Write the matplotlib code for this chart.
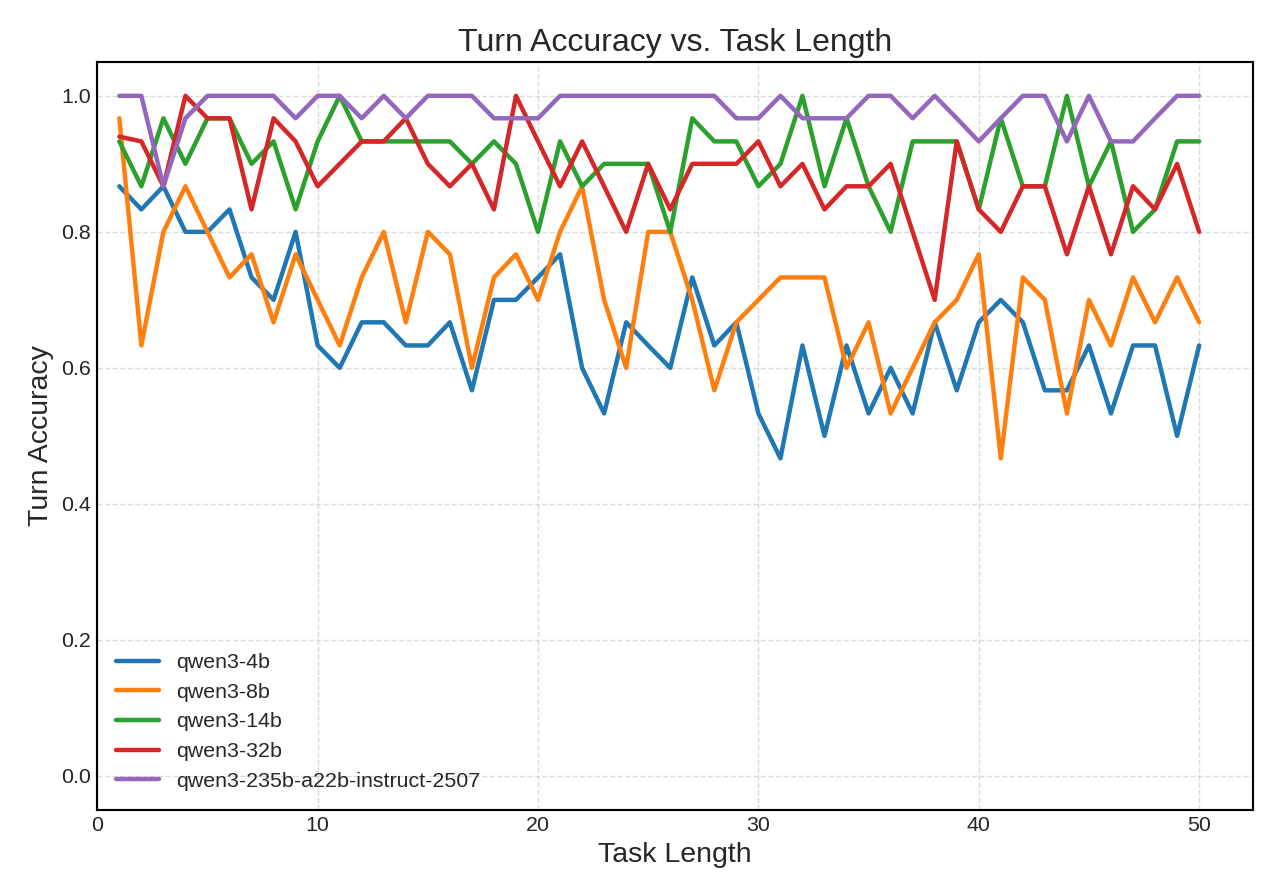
import matplotlib
matplotlib.use('Agg')
import matplotlib.pyplot as plt
import numpy as np

# accuracy per task length
task_length = list(range(1, 51))

qwen3_4b = [0.867, 0.833, 0.867, 0.800, 0.800, 0.833, 0.733, 0.700, 0.800, 0.633,
            0.600, 0.667, 0.667, 0.633, 0.633, 0.667, 0.567, 0.700, 0.700, 0.733,
            0.767, 0.600, 0.533, 0.667, 0.633, 0.600, 0.733, 0.633, 0.667, 0.533,
            0.467, 0.633, 0.500, 0.633, 0.533, 0.600, 0.533, 0.667, 0.567, 0.667,
            0.700, 0.667, 0.567, 0.567, 0.633, 0.533, 0.633, 0.633, 0.500, 0.633]
qwen3_8b = [0.967, 0.633, 0.800, 0.867, 0.800, 0.733, 0.767, 0.667, 0.767, 0.700,
            0.633, 0.733, 0.800, 0.667, 0.800, 0.767, 0.600, 0.733, 0.767, 0.700,
            0.800, 0.867, 0.700, 0.600, 0.800, 0.800, 0.700, 0.567, 0.667, 0.700,
            0.733, 0.733, 0.733, 0.600, 0.667, 0.533, 0.600, 0.667, 0.700, 0.767,
            0.467, 0.733, 0.700, 0.533, 0.700, 0.633, 0.733, 0.667, 0.733, 0.667]
qwen3_14b = [0.933, 0.867, 0.967, 0.900, 0.967, 0.967, 0.900, 0.933, 0.833, 0.933,
             1.000, 0.933, 0.933, 0.933, 0.933, 0.933, 0.900, 0.933, 0.900, 0.800,
             0.933, 0.867, 0.900, 0.900, 0.900, 0.800, 0.967, 0.933, 0.933, 0.867,
             0.900, 1.000, 0.867, 0.967, 0.867, 0.800, 0.933, 0.933, 0.933, 0.833,
             0.967, 0.867, 0.867, 1.000, 0.867, 0.933, 0.800, 0.833, 0.933, 0.933]
qwen3_32b = [0.940, 0.933, 0.867, 1.000, 0.967, 0.967, 0.833, 0.967, 0.933, 0.867,
             0.900, 0.933, 0.933, 0.967, 0.900, 0.867, 0.900, 0.833, 1.000, 0.933,
             0.867, 0.933, 0.867, 0.800, 0.900, 0.833, 0.900, 0.900, 0.900, 0.933,
             0.867, 0.900, 0.833, 0.867, 0.867, 0.900, 0.800, 0.700, 0.933, 0.833,
             0.800, 0.867, 0.867, 0.767, 0.867, 0.767, 0.867, 0.833, 0.900, 0.800]
qwen3_235b = [1.000, 1.000, 0.867, 0.967, 1.000, 1.000, 1.000, 1.000, 0.967, 1.000,
              1.000, 0.967, 1.000, 0.967, 1.000, 1.000, 1.000, 0.967, 0.967, 0.967,
              1.000, 1.000, 1.000, 1.000, 1.000, 1.000, 1.000, 1.000, 0.967, 0.967,
              1.000, 0.967, 0.967, 0.967, 1.000, 1.000, 0.967, 1.000, 0.967, 0.933,
              0.967, 1.000, 1.000, 0.933, 1.000, 0.933, 0.933, 0.967, 1.000, 1.000]

models = ['qwen3-4b', 'qwen3-8b', 'qwen3-14b', 'qwen3-32b', 'qwen3-235b-a22b-instruct-2507']
series = [qwen3_4b, qwen3_8b, qwen3_14b, qwen3_32b, qwen3_235b]

plt.style.use('seaborn-v0_8-whitegrid')
plt.rcParams['font.family'] = ['Liberation Sans', 'DejaVu Sans']
text_color = '#262626'

fig, ax = plt.subplots(figsize=(10, 7), dpi=128)
for name, vals in zip(models, series):
    ax.plot(task_length, vals, linewidth=2.5, label=name)

ax.set_title('Turn Accuracy vs. Task Length', fontsize=18, color=text_color)
ax.set_xlabel('Task Length', fontsize=16, color=text_color)
ax.set_ylabel('Turn Accuracy', fontsize=16, color=text_color)
ax.set_xlim(0, 52.45)
ax.set_ylim(-0.05, 1.05)
ax.set_xticks([0, 10, 20, 30, 40, 50])
ax.set_yticks(np.arange(0, 1.01, 0.2))
ax.tick_params(labelsize=12, colors=text_color)
ax.grid(True, linestyle='--', alpha=0.7)
for sp in ax.spines.values():
    sp.set_visible(True)
    sp.set_color('black')
    sp.set_linewidth(1.2)
ax.legend(loc='lower left', fontsize=12, frameon=False)

plt.subplots_adjust(left=0.076, right=0.979, top=0.931, bottom=0.096)
plt.savefig('out.png', dpi=128)
